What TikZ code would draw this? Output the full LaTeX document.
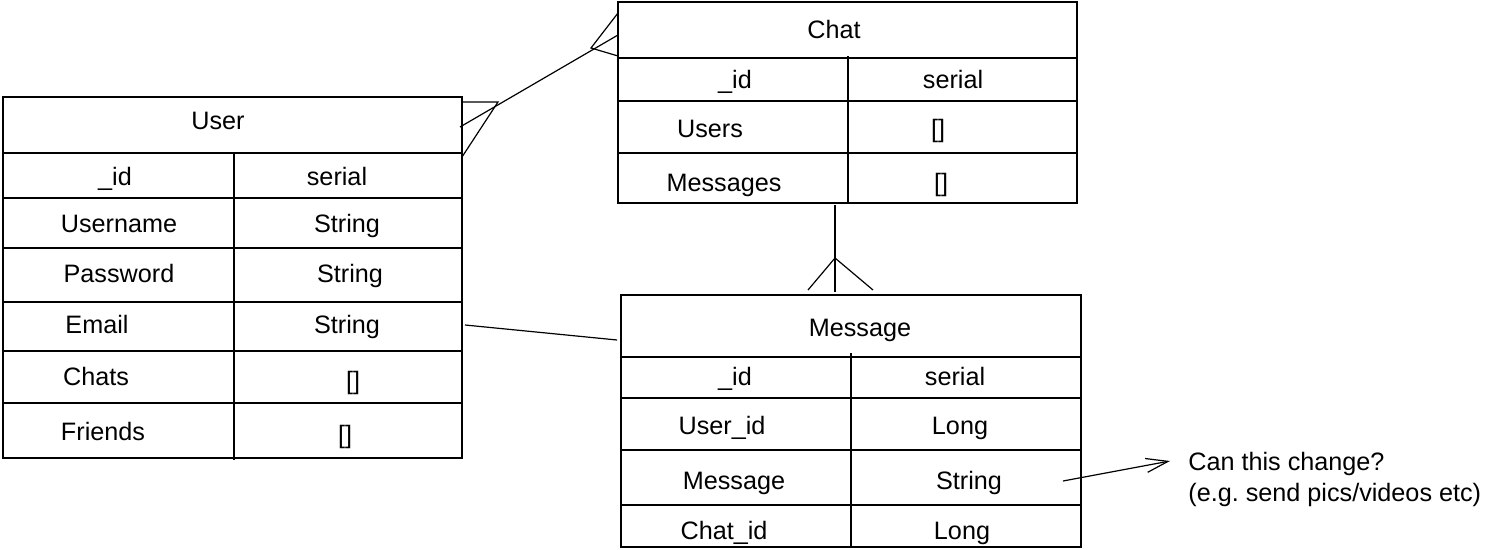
\documentclass[tikz,border=0pt]{standalone}
\usepackage{fontspec}
\setmainfont{Liberation Sans}
\usetikzlibrary{fit,arrows.meta}
\frenchspacing
\begin{document}
\begin{tikzpicture}[x=0.5pt,y=-0.5pt,
  tbl/.style={draw, line width=0.6pt, inner sep=0pt},
  rule/.style={line width=0.6pt},
  lbl/.style={font=\fontsize{12.6}{15}\selectfont, inner sep=0pt, anchor=base},
  note/.style={font=\fontsize{12.6}{15}\selectfont, inner sep=0pt, anchor=base west},
  conn/.style={line width=0.6pt}]
\useasboundingbox (0,0) rectangle (1487,550);
% ---------- User table ----------
\node[tbl, fit={(3,97) (462,458)}] (user) {};
\foreach \y in {153,198,248,302,351,403} \draw[rule] (3,\y) -- (462,\y);
\draw[rule] (234,153) -- (234,460);
\node[lbl] (utitle) at (218,130) {User};
\node[lbl] (uid) at (115,186) {\_id};
\node[lbl] (uidt) at (337,186) {serial};
\node[lbl] (uname) at (119,233) {Username};
\node[lbl] (unamet) at (347,233) {String};
\node[lbl] (upass) at (119,283) {Password};
\node[lbl] (upasst) at (350,283) {String};
\node[lbl] (umail) at (97,334) {Email};
\node[lbl] (umailt) at (347,334) {String};
\node[lbl] (uchats) at (96,386) {Chats};
\node[lbl] (uchatst) at (353,389) {[]};
\node[lbl] (ufr) at (103,440) {Friends};
\node[lbl] (ufrt) at (345,443) {[]};
% ---------- Chat table ----------
\node[tbl, fit={(618,2) (1077,203)}] (chat) {};
\foreach \y in {58,101,153} \draw[rule] (618,\y) -- (1077,\y);
\draw[rule] (848,56) -- (848,203);
\node[lbl] (ctitle) at (834,39) {Chat};
\node[lbl] (cid) at (735,89) {\_id};
\node[lbl] (cidt) at (953,89) {serial};
\node[lbl] (cusers) at (710,138) {Users};
\node[lbl] (cuserst) at (938,138) {[]};
\node[lbl] (cmsgs) at (724,192) {Messages};
\node[lbl] (cmsgst) at (941,192) {[]};
% ---------- Message table ----------
\node[tbl, fit={(621,295) (1081,547)}] (msg) {};
\foreach \y in {357,398,450,505} \draw[rule] (621,\y) -- (1081,\y);
\draw[rule] (851,353) -- (851,547);
\node[lbl] (mtitle) at (860,336) {Message};
\node[lbl] (mid) at (735,386) {\_id};
\node[lbl] (midt) at (955,386) {serial};
\node[lbl] (muid) at (722,434) {User\_id};
\node[lbl] (muidt) at (960,434) {Long};
\node[lbl] (mmsg) at (734,489) {Message};
\node[lbl] (mmsgt) at (969,489) {String};
\node[lbl] (mcid) at (724,539) {Chat\_id};
\node[lbl] (mcidt) at (962,539) {Long};
% ---------- note ----------
\node[note] (note1) at (1188,470) {Can this change?};
\node[note] (note2) at (1188,501) {(e.g. send pics/videos etc)};
% ---------- connector coordinates ----------
\coordinate (uc1) at (460,127);
\coordinate (uc2) at (618,35);
\coordinate (ufoot) at (498,102);
\coordinate (cfoot) at (591,48);
\coordinate (cm1) at (835,205);
\coordinate (cm2) at (835,292);
\coordinate (mfoot) at (835,258);
\coordinate (um1) at (465,325);
\coordinate (um2) at (617,340);
\coordinate (ar1) at (1063,481);
\coordinate (ar2) at (1170,461);
% User -- Chat (many to many)
\draw[conn] (uc1) -- (uc2);
\draw[conn] (462,102) -- (ufoot) -- (462,157);
\draw[conn] (618,13) -- (cfoot) -- (618,56);
% Chat -- Message (one to many)
\draw[conn] (cm1) -- (cm2);
\draw[conn] (808,290) -- (mfoot) -- (873,290);
% User -- Message
\draw[conn] (um1) -- (um2);
% note arrow
\draw[conn, -{Straight Barb[length=11pt,width=7pt]}] (ar1) -- (ar2);
\end{tikzpicture}
\end{document}
